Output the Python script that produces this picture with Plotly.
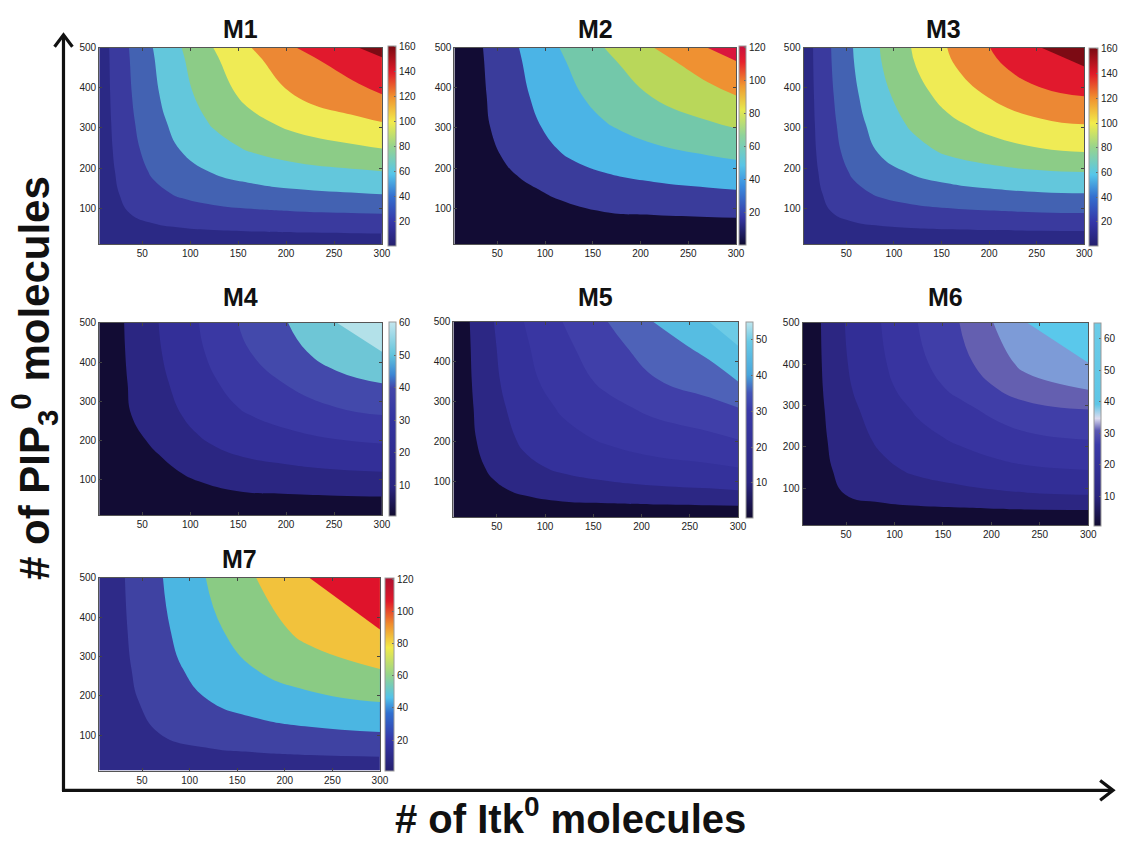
import plotly.graph_objects as go

# ---------------- data ----------------
# Each panel: Itk0 (x) and PIP3_0 (y) sample positions, read where the
# contour bands meet the top / right frame, and the read z values there.
M1_ITK = [5, 15.4, 36, 61, 91, 124, 164, 211, 276, 300]
M1_PIP3 = [10, 37, 86, 135, 192, 249, 315, 384, 476, 500]
M1_Z = [
    [0.66, 2.04, 3.06, 3.68, 4.10, 4.38, 4.60, 4.78, 4.94, 5.0],
    [2.04, 6.88, 11.2, 13.96, 15.84, 17.2, 18.22, 19.04, 19.74, 20.0],
    [3.06, 11.2, 19.61, 25.71, 30.10, 33.33, 35.80, 37.76, 39.40, 40.0],
    [3.68, 13.96, 25.71, 35.14, 42.48, 48.12, 52.51, 56.02, 58.94, 60.0],
    [4.10, 15.84, 30.10, 42.48, 52.85, 61.31, 68.13, 73.68, 78.32, 80.0],
    [4.38, 17.2, 33.33, 48.12, 61.31, 72.73, 82.42, 90.57, 97.49, 100.0],
    [4.60, 18.22, 35.80, 52.51, 68.13, 82.42, 95.21, 106.48, 116.37, 120.0],
    [4.78, 19.04, 37.76, 56.02, 73.68, 90.57, 106.48, 121.27, 134.87, 140.0],
    [4.94, 19.74, 39.40, 58.94, 78.32, 97.49, 116.37, 134.87, 152.92, 160.0],
    [5.0, 20.0, 40.0, 60.0, 80.0, 100.0, 120.0, 140.0, 160.0, 168.0],
]
M2_ITK = [5, 35, 72.7, 115, 162, 214, 270, 300]
M2_PIP3 = [10, 76, 146, 221, 299, 381, 467, 500]
M2_Z = [
    [0.6, 1.82, 2.74, 3.30, 3.66, 3.93, 4.13, 4.25],
    [1.82, 6.19, 10.06, 12.56, 14.26, 15.50, 16.49, 17.0],
    [2.74, 10.06, 14.5, 19.5, 27.37, 30.40, 32.78, 34.0],
    [3.30, 12.56, 20.5, 32.08, 39.0, 44.42, 48.76, 51.0],
    [3.66, 14.26, 27.37, 39.0, 49.0, 57.38, 64.35, 68.0],
    [3.93, 15.50, 30.40, 44.42, 57.38, 69.04, 79.37, 85.0],
    [4.13, 16.49, 32.78, 48.76, 64.35, 79.37, 93.74, 102.0],
    [4.25, 17.0, 34.0, 51.0, 68.0, 85.0, 102.0, 112.2],
]
M3_ITK = [5, 15, 34, 57, 85, 118, 156, 201, 255, 300]
M3_PIP3 = [10, 43, 88, 137, 190, 240, 309, 379, 453, 500]
M3_Z = [
    [0.66, 2.04, 3.06, 3.68, 4.10, 4.38, 4.60, 4.78, 4.94, 5.0],
    [2.04, 6.88, 11.2, 13.96, 15.84, 17.2, 18.22, 19.04, 19.74, 20.0],
    [3.06, 11.2, 19.61, 25.71, 30.10, 33.33, 35.80, 37.76, 39.40, 40.0],
    [3.68, 13.96, 25.71, 35.14, 42.48, 48.12, 52.51, 56.02, 58.94, 60.0],
    [4.10, 15.84, 30.10, 42.48, 52.85, 61.31, 68.13, 73.68, 78.32, 80.0],
    [4.38, 17.2, 33.33, 48.12, 61.31, 72.73, 82.42, 90.57, 97.49, 100.0],
    [4.60, 18.22, 35.80, 52.51, 68.13, 82.42, 95.21, 106.48, 116.37, 120.0],
    [4.78, 19.04, 37.76, 56.02, 73.68, 90.57, 106.48, 121.27, 134.87, 140.0],
    [4.94, 19.74, 39.40, 58.94, 78.32, 97.49, 116.37, 134.87, 152.92, 160.0],
    [5.0, 20.0, 40.0, 60.0, 80.0, 100.0, 120.0, 140.0, 160.0, 170.0],
]
M4_ITK = [5, 31, 67, 109, 150, 202, 253, 300]
M4_PIP3 = [10, 58, 121, 193, 265, 346, 426, 500]
M4_Z = [
    [0.32, 0.96, 1.45, 1.75, 1.94, 2.08, 2.19, 2.25],
    [0.96, 3.28, 5.33, 6.65, 7.55, 8.21, 8.73, 9.0],
    [1.45, 5.33, 7.4, 10.5, 14.49, 16.09, 17.35, 18.0],
    [1.75, 6.65, 10.0, 16.98, 20.65, 23.52, 25.81, 27.0],
    [1.94, 7.55, 14.49, 20.65, 25.94, 30.38, 34.07, 36.0],
    [2.08, 8.21, 16.09, 23.52, 30.38, 36.55, 42.02, 45.0],
    [2.19, 8.73, 17.35, 25.81, 34.07, 42.02, 49.63, 54.0],
    [2.25, 9.0, 18.0, 27.0, 36.0, 45.0, 54.0, 59.4],
]
M5_ITK = [5, 22, 47, 78, 118, 165, 212, 270, 300]
M5_PIP3 = [10, 39, 78, 135, 205, 285, 350, 440, 500]
M5_Z = [
    [0.24, 0.72, 1.09, 1.30, 1.45, 1.55, 1.63, 1.70, 1.75],
    [0.72, 2.44, 3.97, 4.95, 5.62, 6.10, 6.47, 6.77, 7.0],
    [1.09, 3.97, 6.0, 8.0, 10.70, 11.86, 12.74, 13.45, 14.0],
    [1.30, 4.95, 8.2, 12.50, 15.13, 17.16, 18.75, 20.02, 21.0],
    [1.45, 5.62, 10.70, 15.13, 18.87, 21.92, 24.40, 26.44, 28.0],
    [1.55, 6.10, 11.86, 17.16, 21.92, 26.08, 29.63, 32.65, 35.0],
    [1.63, 6.47, 12.74, 18.75, 24.40, 29.63, 34.36, 38.59, 42.0],
    [1.70, 6.77, 13.45, 20.02, 26.44, 32.65, 38.59, 44.22, 49.0],
    [1.75, 7.0, 14.0, 21.0, 28.0, 35.0, 42.0, 49.0, 55.3],
]
M6_ITK = [5, 24, 48.6, 86, 124, 167, 202, 237, 300]
M6_PIP3 = [10, 47, 84, 144, 217, 290, 338, 403, 500]
M6_Z = [
    [0.27, 0.82, 1.24, 1.49, 1.66, 1.78, 1.86, 1.94, 2.0],
    [0.82, 2.79, 4.54, 5.66, 6.42, 6.98, 7.39, 7.74, 8.0],
    [1.24, 4.54, 7.96, 10.44, 12.23, 13.55, 14.56, 15.38, 16.0],
    [1.49, 5.66, 10.44, 14.29, 17.30, 19.61, 21.42, 22.88, 24.0],
    [1.66, 6.42, 12.23, 17.30, 21.56, 25.05, 27.89, 30.22, 32.0],
    [1.78, 6.98, 13.55, 19.61, 25.05, 29.80, 33.86, 37.31, 40.0],
    [1.86, 7.39, 14.56, 21.42, 27.89, 33.86, 39.27, 44.10, 48.0],
    [1.94, 7.74, 15.38, 22.88, 30.22, 37.31, 44.10, 50.54, 56.0],
    [2.0, 8.0, 16.0, 24.0, 32.0, 40.0, 48.0, 56.0, 63.2],
]
M7_ITK = [5, 32, 72, 117, 170, 226, 300]
M7_PIP3 = [10, 45, 108, 184, 268, 369, 500]
M7_Z = [
    [0.72, 2.2, 3.3, 3.96, 4.4, 4.74, 5.0],
    [2.2, 7.46, 12.14, 15.16, 17.24, 18.78, 20.0],
    [3.3, 12.14, 21.44, 28.26, 33.24, 37.0, 40.0],
    [3.96, 15.16, 28.26, 39.04, 47.64, 54.46, 60.0],
    [4.4, 17.24, 33.24, 47.64, 60.2, 70.9, 80.0],
    [4.74, 18.78, 37.0, 54.46, 70.9, 86.12, 100.0],
    [5.0, 20.0, 40.0, 60.0, 80.0, 100.0, 120.0],
]

TITLES = ["M1", "M2", "M3", "M4", "M5", "M6", "M7"]
X_TICKS = [50, 100, 150, 200, 250, 300]
Y_TICKS = [100, 200, 300, 400, 500]
CB_TICKS = [
    [20, 40, 60, 80, 100, 120, 140, 160],
    [20, 40, 60, 80, 100, 120],
    [20, 40, 60, 80, 100, 120, 140, 160],
    [10, 20, 30, 40, 50, 60],
    [10, 20, 30, 40, 50],
    [10, 20, 30, 40, 50, 60],
    [20, 40, 60, 80, 100, 120],
]
CB_RANGE = [(0.8, 161), (0.2, 121), (0.7, 161), (0.6, 60.3), (0.2, 55.1), (0.7, 65), (0.8, 120.8)]
LEVELS = [(20, 160, 20), (17, 102, 17), (20, 160, 20), (9, 54, 9), (7, 49, 7), (8, 56, 8), (20, 100, 20)]
X_ALL = [M1_ITK, M2_ITK, M3_ITK, M4_ITK, M5_ITK, M6_ITK, M7_ITK]
Y_ALL = [M1_PIP3, M2_PIP3, M3_PIP3, M4_PIP3, M5_PIP3, M6_PIP3, M7_PIP3]
Z_ALL = [M1_Z, M2_Z, M3_Z, M4_Z, M5_Z, M6_Z, M7_Z]

# ---------------- styles ----------------
BANDS = [
    ["#2b2985", "#3a3a9e", "#4362b2", "#63c7dc", "#8ccc87", "#efeb55", "#ec8834", "#e1192d", "#7c0b14"],
    ["#120c34", "#3a3c9b", "#4bb4e6", "#73c8aa", "#b9d75a", "#ef9132", "#da163e"],
    ["#2b2985", "#3a3a9e", "#4362b2", "#63c7dc", "#8ccc87", "#efeb55", "#ec8834", "#e1192d", "#7c0b14"],
    ["#120c34", "#2b2682", "#332f98", "#3a38a3", "#4349ab", "#6ec6d6", "#b3e1e9"],
    ["#120c34", "#2c2784", "#34319b", "#3936a2", "#403fa9", "#4e62b8", "#56bde2", "#6ccbe6"],
    ["#120c34", "#2c2682", "#322e96", "#3834a0", "#403ea8", "#645fb0", "#7d9bd7", "#5ac8eb"],
    ["#2e2a88", "#3f42a2", "#4bb6e2", "#8acb84", "#f2c23c", "#df132b"],
]
JET_A = [[0, "#25206e"], [0.12, "#3536a8"], [0.25, "#3470d0"], [0.36, "#55c6ea"], [0.5, "#98d48c"],
         [0.62, "#f2ec4a"], [0.75, "#f08e2e"], [0.87, "#e01a28"], [1, "#7a0a12"]]
CB_SCALES = [
    JET_A,
    [[0, "#0e0a30"], [0.14, "#3638a6"], [0.3, "#3a8ee0"], [0.4, "#58c4e6"], [0.55, "#8ed39a"],
     [0.68, "#e6e84e"], [0.8, "#f09830"], [0.92, "#e6202c"], [1, "#c8103c"]],
    JET_A,
    [[0, "#110b30"], [0.15, "#2a2580"], [0.5, "#3434a0"], [0.66, "#4246aa"], [0.73, "#3c86d4"],
     [0.83, "#62c4dc"], [1, "#c4e6ee"]],
    [[0, "#110b30"], [0.18, "#2a2580"], [0.55, "#3a3aa8"], [0.64, "#4456b8"], [0.73, "#48a6dc"],
     [0.9, "#68cae6"], [1, "#bfe6ee"]],
    [[0, "#110b30"], [0.15, "#2a2580"], [0.4, "#3a3aa8"], [0.47, "#5a58b2"], [0.53, "#dcdcf0"],
     [0.6, "#5ec6e6"], [1, "#6ccce8"]],
    [[0, "#25206e"], [0.16, "#3536a8"], [0.3, "#3070d0"], [0.38, "#52c2ea"], [0.5, "#96d48a"],
     [0.64, "#f2ea48"], [0.76, "#f08e2e"], [0.88, "#e0182a"], [1, "#b01030"]],
]
# pixel layout: plot (left, right, top, bottom), colorbar (left, right, top, bottom)
PLOT_BOX = [(100, 385, 42, 240), (458, 742, 42, 240), (810, 1093, 42, 240),
            (100, 385, 319, 513), (457, 744, 318, 515), (809, 1097, 319, 523),
            (100, 383, 576, 770)]
CB_BOX = [(391, 399, 40, 241), (745, 752, 40, 240), (1098, 1107, 42, 241),
          (392, 399, 318, 513), (752, 759, 318, 515), (1103, 1110, 319, 523),
          (388, 397, 576, 770)]
TITLE_Y = [23, 23, 23, 293, 293, 293, 557]

W, H = 1127, 842
FONT = "Liberation Sans, Arial, Helvetica, sans-serif"


def fx(px):
    return px / W


def fy(py):
    return 1 - py / H


fig = go.Figure()
layout = {}
annotations = []

for i in range(7):
    n = i + 1
    xa = "x" if n == 1 else f"x{n}"
    ya = "y" if n == 1 else f"y{n}"
    start, end, size = LEVELS[i]
    nc = int(round((end - start) / size)) + 1
    bands = BANDS[i]
    band_scale = [[k / nc, c] for k, c in enumerate(bands)]

    fig.add_trace(go.Contour(
        x=X_ALL[i], y=Y_ALL[i], z=Z_ALL[i], xaxis=xa, yaxis=ya,
        autocontour=False,
        contours=dict(start=start, end=end, size=size, coloring="fill", showlines=False),
        line=dict(width=0, smoothing=1.3),
        colorscale=band_scale, showscale=False, hoverinfo="skip",
    ))

    l, r, t, b = CB_BOX[i]
    cmin, cmax = CB_RANGE[i]
    fig.add_trace(go.Scatter(
        x=[None], y=[None], mode="markers", xaxis=xa, yaxis=ya,
        showlegend=False, hoverinfo="skip",
        marker=dict(
            color=[cmin, cmax], cmin=cmin, cmax=cmax, colorscale=CB_SCALES[i], showscale=True,
            colorbar=dict(
                x=fx(l), xanchor="left", y=fy(t), yanchor="top",
                len=(b - t) / H, lenmode="fraction",
                thickness=r - l, thicknessmode="pixels",
                xpad=0, ypad=0, outlinewidth=1, outlinecolor="#9a9a9a",
                tickvals=CB_TICKS[i], ticks="inside", ticklen=2, tickcolor="#666",
                tickfont=dict(size=10, color="#222", family=FONT),
            ),
        ),
    ))

    pl, pr, pt, pb = PLOT_BOX[i]
    axis_common = dict(showgrid=False, zeroline=False, showline=True, linecolor="#555",
                       linewidth=1, mirror="ticks", ticks="inside", ticklen=3,
                       tickcolor="#444", tickfont=dict(size=10, color="#222", family=FONT))
    layout["xaxis" if n == 1 else f"xaxis{n}"] = dict(
        domain=[fx(pl), fx(pr)], range=[5, 300], anchor=ya, tickvals=X_TICKS, **axis_common)
    layout["yaxis" if n == 1 else f"yaxis{n}"] = dict(
        domain=[fy(pb), fy(pt)], range=[10, 500], anchor=xa, tickvals=Y_TICKS, **axis_common)

    annotations.append(dict(
        text=TITLES[i], x=fx((pl + pr) / 2), y=fy(TITLE_Y[i]), xref="paper", yref="paper",
        xanchor="center", yanchor="middle", showarrow=False,
        font=dict(size=25, color="#111", family=FONT, weight="bold"),
    ))

# big axis labels
annotations.append(dict(
    text="# of PIP<sub>3</sub><sup>0</sup> molecules", x=fx(34), y=fy(375),
    xref="paper", yref="paper", xanchor="center", yanchor="middle", textangle=-90,
    showarrow=False, font=dict(size=42, color="#111", family=FONT, weight="bold"),
))
annotations.append(dict(
    text="# of Itk<sup>0</sup> molecules", x=fx(575), y=fy(816),
    xref="paper", yref="paper", xanchor="center", yanchor="middle",
    showarrow=False, font=dict(size=40, color="#111", family=FONT, weight="bold"),
))

# axis arrows (decoration)
LW = 3.2
shapes = [
    dict(type="line", xref="paper", yref="paper", x0=fx(64), y0=fy(791), x1=fx(64), y1=fy(30),
         line=dict(color="#111", width=LW)),
    dict(type="line", xref="paper", yref="paper", x0=fx(62.5), y0=fy(790), x1=fx(1121), y1=fy(790),
         line=dict(color="#111", width=LW)),
    dict(type="path", xref="paper", yref="paper",
         path=f"M {fx(55)} {fy(41)} L {fx(64)} {fy(29)} L {fx(73)} {fy(41)}",
         line=dict(color="#111", width=LW)),
    dict(type="path", xref="paper", yref="paper",
         path=f"M {fx(1109)} {fy(780)} L {fx(1122)} {fy(790)} L {fx(1109)} {fy(800)}",
         line=dict(color="#111", width=LW)),
]

fig.update_layout(
    width=W, height=H, autosize=False,
    margin=dict(l=0, r=0, t=0, b=0),
    paper_bgcolor="white", plot_bgcolor="white",
    showlegend=False, annotations=annotations, shapes=shapes,
    font=dict(family=FONT),
    **layout,
)

fig.write_html("out.html")
